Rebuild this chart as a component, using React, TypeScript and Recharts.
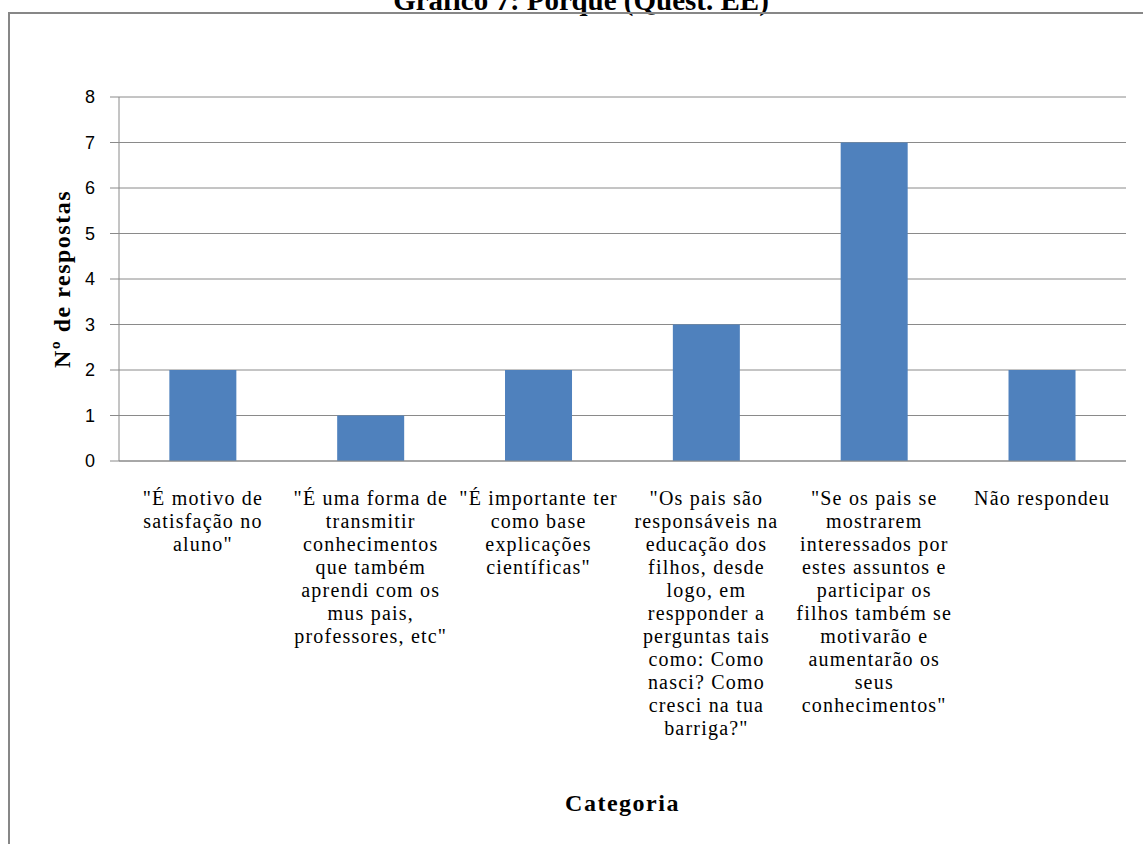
import { BarChart, Bar, XAxis, YAxis, CartesianGrid, Label } from "recharts";

// ─── Data ────────────────────────────────────────────────
const CATEGORY_LINES: string[][] = [
  ['"É motivo de', "satisfação no", 'aluno"'],
  ['"É uma forma de', "transmitir", "conhecimentos", "que também", "aprendi com os", "mus pais,", 'professores, etc"'],
  ['"É importante ter', "como base", "explicações", 'científicas"'],
  ['"Os pais são', "responsáveis na", "educação dos", "filhos, desde", "logo, em", "respponder a", "perguntas tais", "como: Como", "nasci? Como", "cresci na tua", 'barriga?"'],
  ['"Se os pais se', "mostrarem", "interessados por", "estes assuntos e", "participar os", "filhos também se", "motivarão e", "aumentarão os", "seus", 'conhecimentos"'],
  ["Não respondeu"],
];
const RESPOSTAS = [2, 1, 2, 3, 7, 2];
const Y_TICKS = [0, 1, 2, 3, 4, 5, 6, 7, 8];

const TITLE = "Gráfico 7: Porque (Quest. EE)";
const X_TITLE = "Categoria";
const Y_TITLE = "Nº de respostas";

const rows = CATEGORY_LINES.map((lines, i) => ({
  categoria: lines.join(" "),
  respostas: RESPOSTAS[i],
}));

const SERIF = '"Liberation Serif", "Times New Roman", serif';
const GRID = "#8a8a8a";

// ─── Multi-line category tick ────────────────────────────
function CategoryTick({ x, y, payload }: { x?: number; y?: number; payload?: { index: number } }) {
  const lines = CATEGORY_LINES[payload?.index ?? 0];
  return (
    <text
      x={x}
      y={(y ?? 0) + 36}
      textAnchor="middle"
      style={{ fontFamily: SERIF, fontSize: 20, letterSpacing: 1.2 }}
      fill="#000"
    >
      {lines.map((line, i) => (
        <tspan key={i} x={x} dy={i === 0 ? 0 : 23}>
          {line}
        </tspan>
      ))}
    </text>
  );
}

export default function App() {
  return (
    <div
      style={{
        position: "absolute",
        left: 0,
        top: 0,
        width: 1143,
        height: 844,
        overflow: "hidden",
        background: "#fff",
      }}
    >
      {/* title sits above the frame, partly cut off by the page edge */}
      <svg width={1143} height={20} style={{ position: "absolute", left: 0, top: 0 }}>
        <text
          x={581}
          y={10}
          textAnchor="middle"
          style={{ fontFamily: SERIF, fontWeight: "bold", fontSize: 29 }}
          fill="#000"
        >
          {TITLE}
        </text>
      </svg>

      {/* chart frame */}
      <div
        style={{
          position: "absolute",
          left: 8,
          top: 12,
          width: 1160,
          height: 860,
          border: "2px solid #878787",
          boxSizing: "border-box",
        }}
      />

      <div style={{ position: "absolute", left: 0, top: 0 }}>
        <BarChart
          width={1143}
          height={844}
          data={rows}
          margin={{ top: 97, right: 17, left: 59, bottom: 0 }}
          barCategoryGap="30%"
        >
          <CartesianGrid vertical={false} stroke={GRID} strokeWidth={1} />
          <XAxis
            dataKey="categoria"
            height={383}
            interval={0}
            tickLine={false}
            axisLine={{ stroke: GRID }}
            tick={<CategoryTick />}
          >
            <Label
              content={({ viewBox }: any) => (
                <text
                  x={viewBox.x + viewBox.width / 2}
                  y={viewBox.y + 350}
                  textAnchor="middle"
                  style={{ fontFamily: SERIF, fontWeight: "bold", fontSize: 24, letterSpacing: 1.5 }}
                  fill="#000"
                >
                  {X_TITLE}
                </text>
              )}
            />
          </XAxis>
          <YAxis
            width={60}
            domain={[0, 8]}
            ticks={Y_TICKS}
            interval={0}
            tickSize={9}
            tickMargin={15}
            tickLine={{ stroke: GRID }}
            axisLine={{ stroke: GRID }}
            tick={{ fontSize: 18, fill: "#000", fontFamily: '"Liberation Sans", Arial, sans-serif' }}
          >
            <Label
              content={({ viewBox }: any) => {
                const cx = viewBox.x + 3;
                const cy = viewBox.y + viewBox.height / 2;
                return (
                  <text
                    x={cx}
                    y={cy}
                    transform={`rotate(-90, ${cx}, ${cy})`}
                    textAnchor="middle"
                    dominantBaseline="central"
                    style={{ fontFamily: SERIF, fontWeight: "bold", fontSize: 24, letterSpacing: 1.5 }}
                    fill="#000"
                  >
                    {Y_TITLE}
                  </text>
                );
              }}
            />
          </YAxis>
          <Bar dataKey="respostas" fill="#4F81BD" isAnimationActive={false} />
        </BarChart>
      </div>
    </div>
  );
}
